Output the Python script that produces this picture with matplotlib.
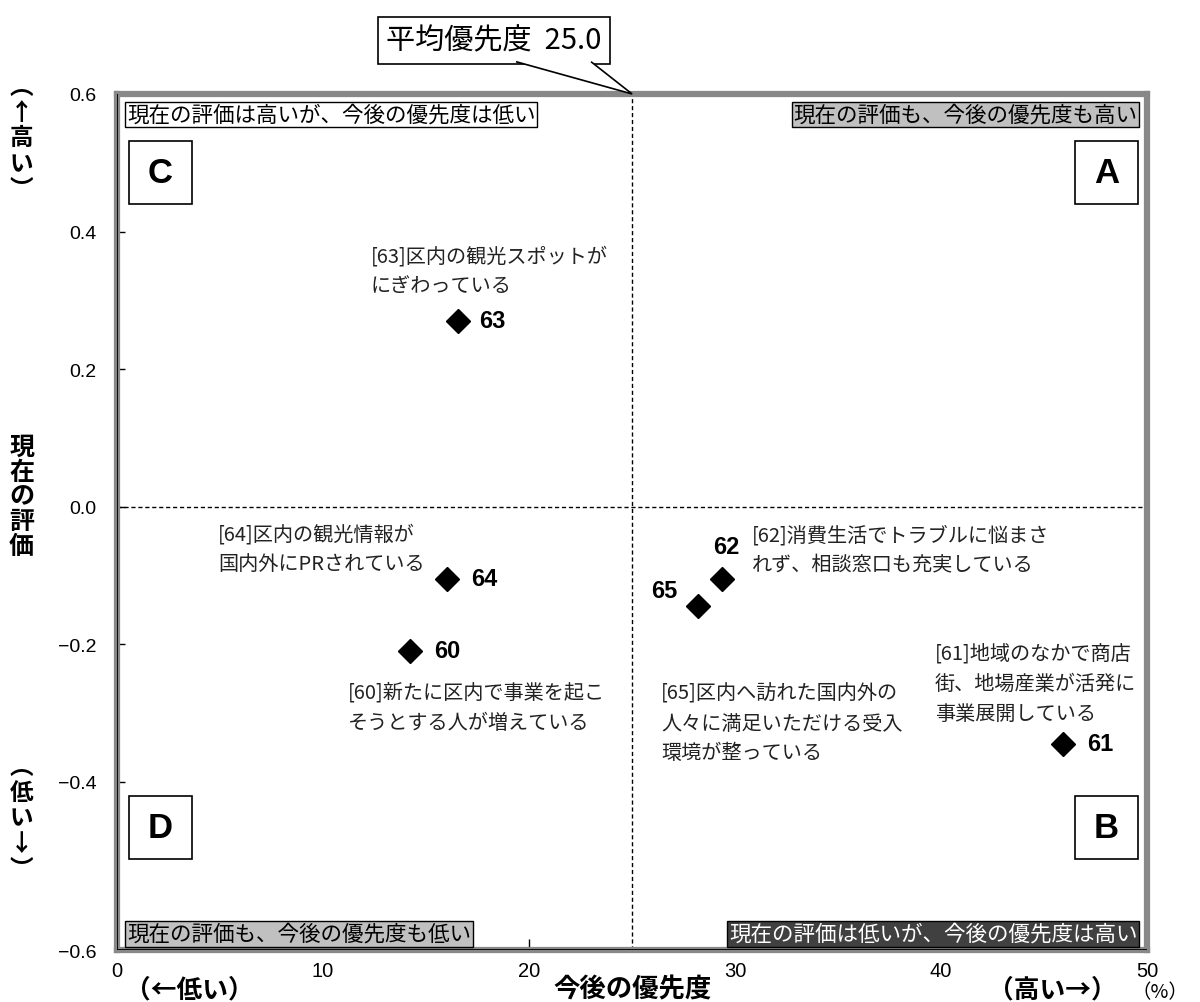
import matplotlib
matplotlib.use("Agg")
import matplotlib.pyplot as plt
from matplotlib.patches import Rectangle, Polygon

plt.rcParams['font.family'] = ['Noto Sans CJK JP', 'DejaVu Sans']

# data: item number, priority (%), current evaluation
item_ids = ["60", "61", "62", "63", "64", "65"]
priority = [14.2, 45.9, 29.35, 16.55, 16.0, 28.2]
evaluation = [-0.21, -0.345, -0.105, 0.27, -0.105, -0.145]
avg_priority = 25.0

descriptions = {
    "60": "[60]新たに区内で事業を起こ\nそうとする人が増えている",
    "61": "[61]地域のなかで商店\n街、地場産業が活発に\n事業展開している",
    "62": "[62]消費生活でトラブルに悩まさ\nれず、相談窓口も充実している",
    "63": "[63]区内の観光スポットが\nにぎわっている",
    "64": "[64]区内の観光情報が\n国内外にPRされている",
    "65": "[65]区内へ訪れた国内外の\n人々に満足いただける受入\n環境が整っている",
}
# where the description text sits (data coords, left edge / vertical centre)
desc_pos = {
    "60": (11.2, -0.292),
    "61": (39.7, -0.257),
    "62": (30.8, -0.063),
    "63": (12.3, 0.343),
    "64": (4.9, -0.061),
    "65": (26.4, -0.315),
}
# offset of the number label from its marker (points)
num_offset = {
    "60": (27, 0), "61": (27, 0), "62": (3.5, 23),
    "63": (25, 0), "64": (27, 0), "65": (-24.5, 11),
}

xticks = [0, 10, 20, 30, 40, 50]
# the original chart's bottom edge sits a little below -0.6
y_bottom = -0.645
ytick_pos = [y_bottom, -0.4, -0.2, 0.0, 0.2, 0.4, 0.6]
ytick_lab = ["−0.6", "−0.4", "−0.2", "0.0", "0.2", "0.4", "0.6"]

fig = plt.figure(figsize=(12, 10.03), dpi=100)
ax = fig.add_axes([0.0975, 0.0518, 0.8585, 0.8535])
ax.set_xlim(0, 50)
ax.set_ylim(y_bottom, 0.6)

# frame: grey thick border, black inner line on left / bottom
for s in ax.spines.values():
    s.set_color('#888888')
    s.set_linewidth(4.5)
ax.axvline(0, color='black', lw=1.3, zorder=3)
ax.axhline(y_bottom, color='black', lw=1.3, zorder=3)

ax.axvline(avg_priority, color='black', lw=1, ls=(0, (3, 2)))
ax.axhline(0, color='black', lw=1, ls=(0, (3, 2)))

ax.set_xticks(xticks)
ax.set_yticks(ytick_pos, ytick_lab)
ax.tick_params(axis='x', direction='in', length=8, width=1, pad=8, labelsize=14.5)
ax.tick_params(axis='y', direction='in', length=6, width=1, pad=15, labelsize=14)
for lab in ax.get_xticklabels():
    lab.set_family(['Liberation Sans Narrow', 'Liberation Sans'])
for lab in ax.get_yticklabels():
    lab.set_family(['Liberation Sans', 'DejaVu Sans'])

ax.plot(priority, evaluation, ls='none', marker='D', ms=12.5, color='black', zorder=5)

for i, pid in enumerate(item_ids):
    ax.annotate(pid, (priority[i], evaluation[i]), xytext=num_offset[pid],
                textcoords='offset points', ha='center', va='center',
                fontsize=17, fontweight='bold',
                family=['Liberation Sans Narrow', 'Liberation Sans'])
    dx, dy = desc_pos[pid]
    ax.text(dx, dy, descriptions[pid], ha='left', va='center', fontsize=14.5,
            color='#222222', linespacing=1.55)

# quadrant captions
qfs = 15.5
ax.text(0.0097, 0.976, "現在の評価は高いが、今後の優先度は低い", transform=ax.transAxes,
        ha='left', va='center', fontsize=qfs,
        bbox=dict(boxstyle='square,pad=0.08', fc='white', ec='black', lw=1))
ax.text(0.9905, 0.976, "現在の評価も、今後の優先度も高い", transform=ax.transAxes,
        ha='right', va='center', fontsize=qfs,
        bbox=dict(boxstyle='square,pad=0.08', fc='#c0c0c0', ec='black', lw=1))
ax.text(0.0097, 0.019, "現在の評価も、今後の優先度も低い", transform=ax.transAxes,
        ha='left', va='center', fontsize=qfs,
        bbox=dict(boxstyle='square,pad=0.08', fc='#c0c0c0', ec='black', lw=1))
ax.text(0.9905, 0.019, "現在の評価は低いが、今後の優先度は高い", transform=ax.transAxes,
        ha='right', va='center', fontsize=qfs, color='white',
        bbox=dict(boxstyle='square,pad=0.08', fc='#404040', ec='black', lw=1))

# big quadrant letters
bw, bh = 0.061, 0.0736
letter_boxes = {"C": (0.0117, 0.871), "A": (0.930, 0.871), "D": (0.0117, 0.106), "B": (0.930, 0.106)}
for letter, (lx, ly) in letter_boxes.items():
    ax.add_patch(Rectangle((lx, ly), bw, bh, transform=ax.transAxes,
                           fc='white', ec='black', lw=1.2, zorder=4))
    ax.text(lx + bw / 2, ly + bh / 2, letter, transform=ax.transAxes, ha='center',
            va='center', fontsize=25, fontweight='bold',
            family=['Liberation Sans', 'DejaVu Sans'], zorder=5)

# average callout: box plus a pointer to the top of the average line
fig.text(0.4117, 0.9586, f"平均優先度  {avg_priority:.1f}", ha='center', va='center',
         fontsize=21,
         bbox=dict(boxstyle='square,pad=0.3', fc='white', ec='black', lw=1.2))
tip = fig.transFigure.inverted().transform(ax.transData.transform((avg_priority, 0.6)))
base_y = 0.9375
pointer = Polygon([(0.430, base_y), tuple(tip), (0.4925, base_y)], closed=False,
                  fc='white', ec='black', lw=1.2, transform=fig.transFigure, zorder=5)
fig.patches.append(pointer)

# axis titles
fig.text(0.018, 0.504, "現\n在\nの\n評\n価", ha='center', va='center', fontsize=18,
         fontweight='bold', linespacing=1.05)
fig.text(0.018, 0.862, "︵\n↑\n高\nい\n︶", ha='center', va='center', fontsize=17,
         fontweight='bold', linespacing=1.1)
fig.text(0.018, 0.184, "︵\n低\nい\n↓\n︶", ha='center', va='center', fontsize=17,
         fontweight='bold', linespacing=1.1)

fig.text(0.158, 0.0, "（←低い）", ha='center', va='bottom', fontsize=18.5, fontweight='bold')
fig.text(0.527, 0.0, "今後の優先度", ha='center', va='bottom', fontsize=19, fontweight='bold')
fig.text(0.877, 0.0, "（高い→）", ha='center', va='bottom', fontsize=18.5, fontweight='bold')
fig.text(0.967, 0.0, "（%）", ha='center', va='bottom', fontsize=14)

fig.savefig("out.png", dpi=100)
